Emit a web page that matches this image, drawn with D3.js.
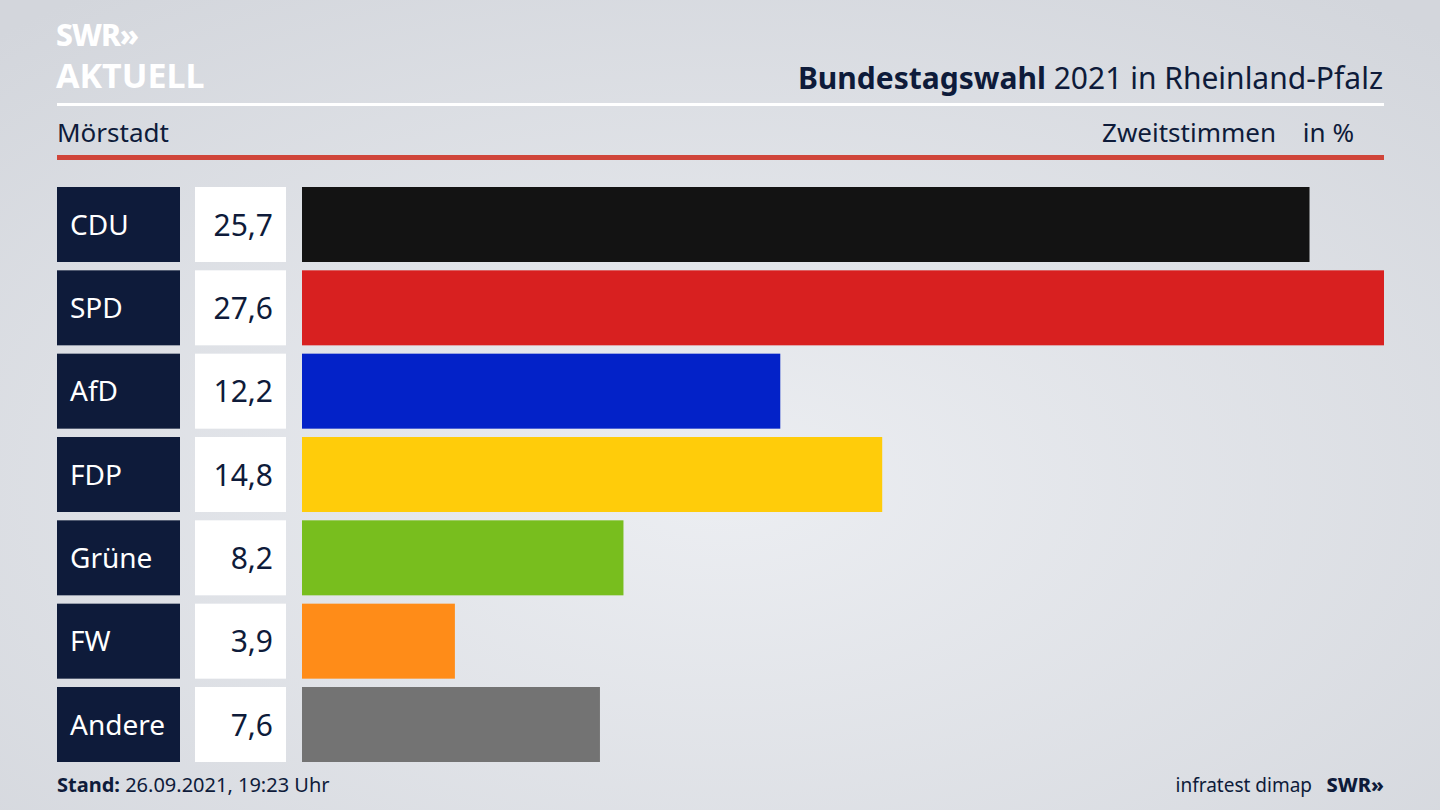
<!DOCTYPE html>
<html><head><meta charset="utf-8">
<script src="https://cdn.jsdelivr.net/npm/d3@7"></script>
<style>body{margin:0;overflow:hidden}svg{display:block}</style>
</head><body><svg id="c" width="1440" height="810"></svg>
<script>
const parties = ["CDU","SPD","AfD","FDP","Grüne","FW","Andere"];
const values = [25.7,27.6,12.2,14.8,8.2,3.9,7.6];
const valueLabels = ["25,7","27,6","12,2","14,8","8,2","3,9","7,6"];
const colors = ["#131313","#d82020","#0322c8","#ffcc0a","#78be1e","#ff8c18","#737373"];

const svg = d3.select("#c");
const F = "'Noto Sans', Lato, sans-serif";
const navy = "#0e1b3a";
const defs = svg.append("defs");
const g = defs.append("radialGradient").attr("id","bg").attr("cx","50%").attr("cy","60%").attr("r","75%");
g.append("stop").attr("offset","0%").attr("stop-color","#eceef2");
g.append("stop").attr("offset","100%").attr("stop-color","#d3d6dc");
svg.append("rect").attr("width",1440).attr("height",810).attr("fill","url(#bg)");

// logo
svg.append("text").attr("x",56).attr("y",46).attr("font-family",F).attr("font-weight",800).attr("font-size",30).attr("fill","#fff").attr("letter-spacing",-1).text("SWR»");
svg.append("text").attr("x",56).attr("y",88).attr("font-family",F).attr("font-weight",700).attr("font-size",34).attr("fill","#fff").text("AKTUELL");

const title = svg.append("text").attr("x",1383).attr("y",89).attr("text-anchor","end").attr("font-family",F).attr("font-size",30).attr("fill",navy);
title.append("tspan").attr("font-weight",700).text("Bundestagswahl");
title.append("tspan").text(" 2021 in Rheinland-Pfalz");
svg.append("rect").attr("x",57).attr("y",103).attr("width",1327).attr("height",3).attr("fill","#fff");
svg.append("text").attr("x",57).attr("y",142).attr("font-family",F).attr("font-size",26).attr("fill",navy).text("Mörstadt");
svg.append("text").attr("x",1276).attr("y",142).attr("text-anchor","end").attr("font-family",F).attr("font-size",26).attr("fill",navy).text("Zweitstimmen");
svg.append("text").attr("x",1354).attr("y",142).attr("text-anchor","end").attr("font-family",F).attr("font-size",26).attr("fill",navy).text("in %");
svg.append("rect").attr("x",57).attr("y",155).attr("width",1327).attr("height",5).attr("fill","#d0453a");

const x = d3.scaleLinear().domain([0,27.6]).range([302,1384]);
const yy = d3.scaleBand().domain(parties).range([187,762]).paddingInner(0.1).paddingOuter(0);
const rows = svg.selectAll("g.row").data(parties).join("g");
rows.append("rect").attr("x",57).attr("y",d=>yy(d)).attr("width",123).attr("height",yy.bandwidth()).attr("fill",navy);
rows.append("text").attr("x",70).attr("y",d=>yy(d)+yy.bandwidth()/2+10).attr("font-family",F).attr("font-size",28).attr("fill","#fff").text(d=>d);
rows.append("rect").attr("x",195).attr("y",d=>yy(d)).attr("width",91).attr("height",yy.bandwidth()).attr("fill","#fff");
rows.append("text").attr("x",273).attr("y",d=>yy(d)+yy.bandwidth()/2+11).attr("text-anchor","end").attr("font-family",F).attr("font-size",30).attr("fill",navy).text((d,i)=>valueLabels[i]);
rows.append("rect").attr("x",x(0)).attr("y",d=>yy(d)).attr("width",(d,i)=>x(values[i])-x(0)).attr("height",yy.bandwidth()).attr("fill",(d,i)=>colors[i]);

const st = svg.append("text").attr("x",57).attr("y",792).attr("font-family",F).attr("font-size",20).attr("fill",navy);
st.append("tspan").attr("font-weight",700).text("Stand:");
st.append("tspan").text(" 26.09.2021, 19:23 Uhr");
svg.append("text").attr("x",1312).attr("y",792).attr("text-anchor","end").attr("font-family",F).attr("font-size",19).attr("fill",navy).text("infratest dimap");
svg.append("text").attr("x",1384).attr("y",792).attr("text-anchor","end").attr("font-family",F).attr("font-weight",800).attr("font-size",20).attr("fill",navy).text("SWR»");
</script></body></html>
